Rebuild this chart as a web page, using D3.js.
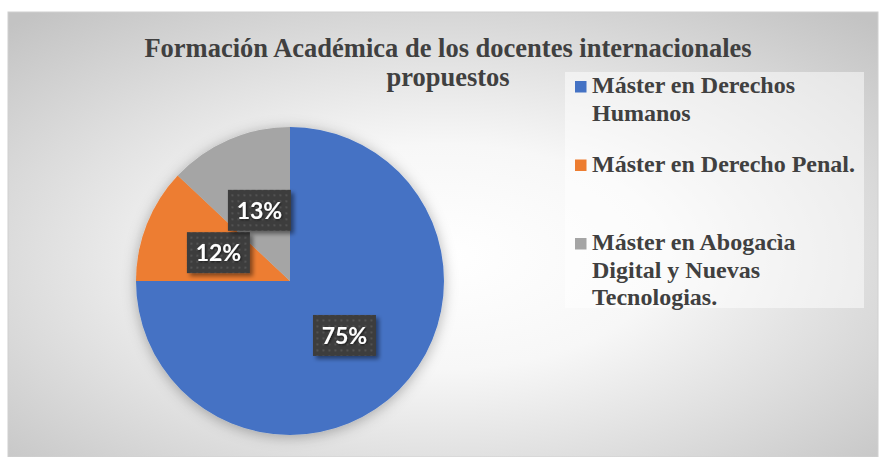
<!DOCTYPE html>
<html lang="es">
<head>
<meta charset="UTF-8">
<title>Formación Académica de los docentes internacionales propuestos</title>
<script src="https://d3js.org/d3.v7.min.js"></script>
<style>
  body { margin: 0; background: #ffffff; }
  svg { display: block; }
  .title { font-family: "Liberation Serif", "Times New Roman", serif; font-weight: bold; font-size: 26.5px; fill: #404040; }
  .legend text { font-family: "Liberation Serif", "Times New Roman", serif; font-weight: bold; font-size: 24px; fill: #404040; }
  .lbl { font-family: Lato, "Open Sans", sans-serif; font-weight: bold; font-size: 23px; fill: #ffffff; }
</style>
</head>
<body>
<svg id="chart"></svg>
<script>
// data
const categories = ["Máster en Derechos Humanos", "Máster en Derecho Penal.", "Máster en Abogacìa Digital y Nuevas Tecnologias."];
const values = [75, 12, 13];
const legendLines = [
  ["Máster en Derechos", "Humanos"],
  ["Máster en Derecho Penal."],
  ["Máster en Abogacìa", "Digital y Nuevas", "Tecnologias."]
];
const titleLines = ["Formación Académica de los docentes internacionales", "propuestos"];

const width = 879, height = 457;
const svg = d3.select("#chart").attr("width", width).attr("height", height);

const color = d3.scaleOrdinal().domain(categories).range(["#4472c4", "#ed7d31", "#a5a5a5"]);

const defs = svg.append("defs");

// background gradient
const bg = defs.append("radialGradient").attr("id", "bg")
  .attr("cx", "0.5").attr("cy", "0.55").attr("r", "0.72");
bg.append("stop").attr("offset", "0").attr("stop-color", "#ffffff");
bg.append("stop").attr("offset", "0.35").attr("stop-color", "#f7f7f7");
bg.append("stop").attr("offset", "1").attr("stop-color", "#c3c3c3");

// soft shadow around the pie
const pieShadow = defs.append("filter").attr("id", "pieShadow")
  .attr("x", "-20%").attr("y", "-20%").attr("width", "140%").attr("height", "140%");
pieShadow.append("feDropShadow").attr("dx", 0).attr("dy", 2).attr("stdDeviation", 7)
  .attr("flood-color", "#000").attr("flood-opacity", 0.3);

// label box shadow
const boxShadow = defs.append("filter").attr("id", "boxShadow")
  .attr("x", "-20%").attr("y", "-20%").attr("width", "150%").attr("height", "150%");
boxShadow.append("feDropShadow").attr("dx", 3).attr("dy", 3).attr("stdDeviation", 2)
  .attr("flood-color", "#000").attr("flood-opacity", 0.45);

const txtShadow = defs.append("filter").attr("id", "txtShadow");
txtShadow.append("feDropShadow").attr("dx", 1).attr("dy", 1).attr("stdDeviation", 0.8)
  .attr("flood-color", "#000").attr("flood-opacity", 0.6);

// dotted pattern on the label boxes
const pat = defs.append("pattern").attr("id", "dots")
  .attr("width", 6).attr("height", 6).attr("patternUnits", "userSpaceOnUse");
pat.append("rect").attr("width", 6).attr("height", 6).attr("fill", "#3d3d3d");
pat.append("rect").attr("x", 2).attr("y", 2).attr("width", 2).attr("height", 2).attr("fill", "#535353");

// chart area
svg.append("rect")
  .attr("x", 8).attr("y", 12).attr("width", 870).attr("height", 445)
  .attr("fill", "url(#bg)").attr("stroke", "#d0d0d0").attr("stroke-width", 1);

// title
svg.append("text").attr("class", "title")
  .attr("x", 448).attr("y", 57).attr("text-anchor", "middle")
  .selectAll("tspan").data(titleLines).join("tspan")
  .attr("x", 448).attr("dy", (d, i) => i ? 29 : 0)
  .text(d => d);

// pie
const cx = 290, cy = 281, radius = 154;
const pie = d3.pie().sort(null).value(d => d);
const arcs = pie(values);
const arc = d3.arc().innerRadius(0).outerRadius(radius);
const labelArc = d3.arc().innerRadius(radius * 0.5).outerRadius(radius * 0.5);

const g = svg.append("g").attr("transform", `translate(${cx},${cy})`);
g.append("g").attr("filter", "url(#pieShadow)")
  .selectAll("path").data(arcs).join("path")
  .attr("d", arc)
  .attr("fill", (d, i) => color(categories[i]));

// data labels
const total = d3.sum(values);
const fmt = d3.format(".0%");
const bw = 63, bh = 41;
const lab = g.selectAll("g.lab").data(arcs).join("g").attr("class", "lab")
  .attr("transform", d => `translate(${labelArc.centroid(d)})`);
lab.append("rect")
  .attr("x", -bw / 2).attr("y", -bh / 2).attr("width", bw).attr("height", bh)
  .attr("fill", "url(#dots)").attr("filter", "url(#boxShadow)");
lab.append("text").attr("class", "lbl")
  .attr("text-anchor", "middle").attr("dy", "0.36em")
  .attr("filter", "url(#txtShadow)")
  .text(d => fmt(d.value / total));

// legend
const legend = svg.append("g").attr("class", "legend");
legend.append("rect")
  .attr("x", 565).attr("y", 72).attr("width", 299).attr("height", 236)
  .attr("fill", "#ffffff").attr("opacity", 0.5);

const ly = d3.scalePoint().domain(categories).range([93, 250]);
const item = legend.selectAll("g.item").data(categories).join("g").attr("class", "item")
  .attr("transform", d => `translate(575,${ly(d)})`);
item.append("rect")
  .attr("x", 0).attr("y", -12).attr("width", 11.5).attr("height", 11.5)
  .attr("fill", d => color(d));
item.append("text")
  .selectAll("tspan").data((d, i) => legendLines[i]).join("tspan")
  .attr("x", 17).attr("y", (d, j) => j * 27.5)
  .text(d => d);
</script>
</body>
</html>
